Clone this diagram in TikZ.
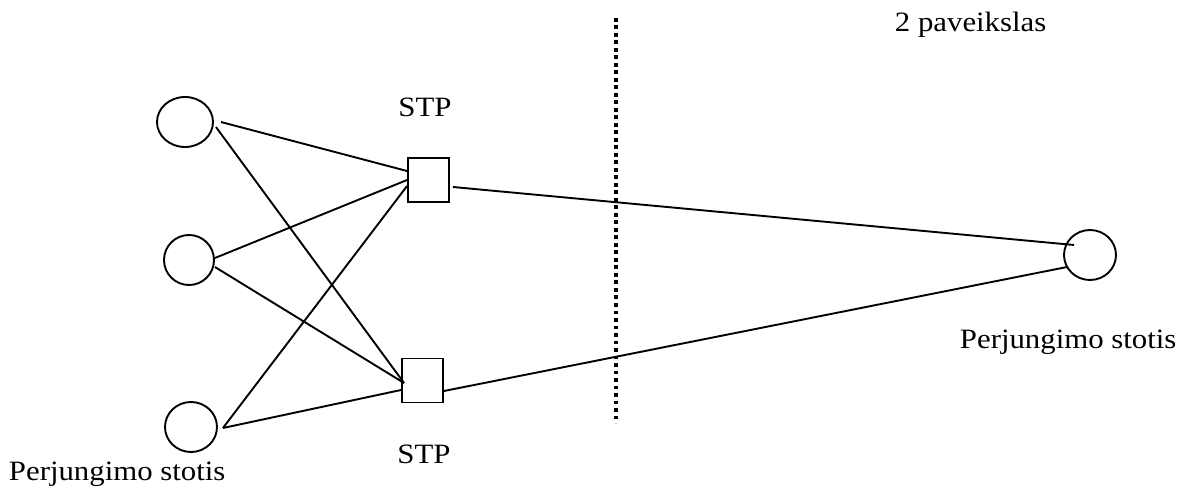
\documentclass[tikz,border=0pt]{standalone}
\usepackage{fontspec}
\setmainfont{Liberation Serif}[FakeStretch=1.1]
\usetikzlibrary{shapes.geometric}
\begin{document}
\begin{tikzpicture}[x=1pt,y=-1pt,
  line width=1.9pt,
  station/.style={draw,ellipse,inner sep=0pt,minimum width=#1,minimum height=50pt},
  stpbox/.style={draw,rectangle,inner sep=0pt,minimum width=41pt,minimum height=44pt},
  lbl/.style={inner sep=0pt,font=\fontsize{28}{31}\selectfont},
  link/.style={line width=1.9pt}]
\useasboundingbox (0,0) rectangle (1178,489);
% stations
\node[station=56pt] (c1) at (185,122) {};
\node[station=50pt] (c2) at (189,260) {};
\node[station=52pt] (c3) at (191,427) {};
\node[station=52pt] (r) at (1090,255) {};
% STP boxes
\node[stpbox] (s1) at (428.5,180) {};
\node[stpbox] (s2) at (422.5,380.5) {};
% links
\draw[link] ([xshift=7pt]c1.east) -- ([yshift=9pt]s1.west);
\draw[link] ([xshift=2pt,yshift=-5pt]c1.east) -- ([xshift=3pt,yshift=-2.5pt]s2.west);
\draw[link] ([yshift=2pt]c2.east) -- (s1.west);
\draw[link] ([yshift=-7pt]c2.east) -- ([xshift=3pt,yshift=-2.5pt]s2.west);
\draw[link] ([xshift=5pt,yshift=-1pt]c3.east) -- ([yshift=-6pt]s1.west);
\draw[link] ([xshift=5pt,yshift=-1pt]c3.east) -- ([yshift=-9.5pt]s2.west);
\draw[link] ([xshift=3pt,yshift=-7pt]s1.east) -- ([xshift=-16pt,yshift=10pt]r.center);
\draw[link] ([yshift=-10.5pt]s2.east) -- ([xshift=-23pt,yshift=-12pt]r.center);
% dotted divider
\coordinate (dtop) at (616,18);
\coordinate (dbot) at (616,423);
\draw[line width=3.4pt,dash pattern=on 3.7pt off 3.8pt] (dtop) -- (dbot);
% labels
\node[lbl,anchor=base] (t1) at (425,117) {STP};
\node[lbl,anchor=base] (t2) at (424,463) {STP};
\node[lbl,anchor=base west] (t3) at (8,480) {Perjungimo stotis};
\node[lbl,anchor=base west] (t4) at (959,348) {Perjungimo stotis};
\node[lbl,anchor=base west] (t5) at (894,32) {2 paveikslas};
\end{tikzpicture}
\end{document}
